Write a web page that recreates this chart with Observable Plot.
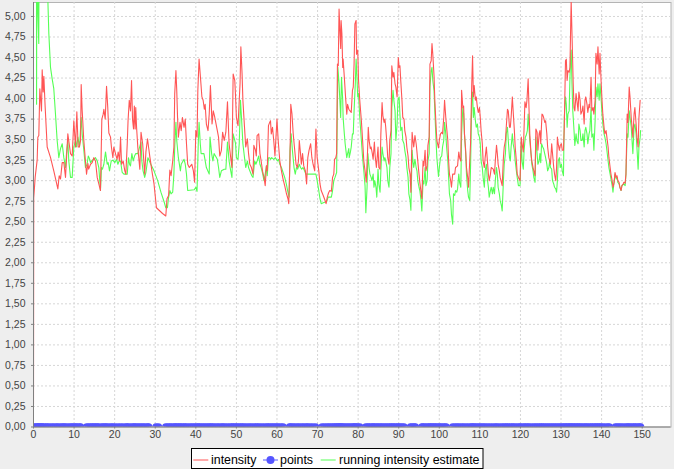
<!DOCTYPE html>
<html>
<head>
<meta charset="utf-8">
<script src="https://cdn.jsdelivr.net/npm/d3@7"></script>
<script src="https://cdn.jsdelivr.net/npm/@observablehq/plot@0.6"></script>
<style>
  html, body { margin: 0; padding: 0; background: #eeeeee; }
  #wrap { position: relative; width: 674px; height: 469px; overflow: hidden; background: #eeeeee; }
  #legend { position: absolute; left: 191px; top: 448px; }
</style>
</head>
<body>
<div id="wrap"></div>
<script>
// ---- data ----
const xTicks = [0, 10, 20, 30, 40, 50, 60, 70, 80, 90, 100, 110, 120, 130, 140, 150];
const yTicks = [0, 0.25, 0.5, 0.75, 1, 1.25, 1.5, 1.75, 2, 2.25, 2.5, 2.75, 3, 3.25, 3.5, 3.75, 4, 4.25, 4.5, 4.75, 5];
const seriesNames = ["intensity", "points", "running intensity estimate"];

// intensity: [time, value]
const intensity = [
[0,0.28],[0.06,2.79],[0.41,3.04],[0.9,3.25],[1.07,3.53],[1.31,3.55],[1.56,4.12],[1.97,3.85],[2.14,4.35],[2.38,4.08],[2.55,4.27],[2.88,3.89],[3.37,3.41],[4.2,3.28],[5.0,3.12],[6.0,2.9],[6.33,3.06],[6.66,3.02],[7.07,3.22],[7.48,3.22],[7.89,3.04],[8.46,3.57],[9.12,3.33],[9.53,3.3],[9.94,3.73],[10.35,3.41],[10.68,3.84],[11.0,3.41],[11.3,3.41],[11.6,3.49],[11.75,4.17],[12.0,3.85],[12.4,3.49],[12.8,3.24],[13.07,3.08],[13.4,3.21],[13.6,3.14],[14.05,3.2],[14.46,3.22],[14.87,3.28],[15.28,3.24],[15.7,3.04],[16.1,2.96],[16.5,2.88],[16.84,3.75],[17.17,3.81],[17.34,3.87],[17.67,3.75],[18.0,4.15],[18.3,3.89],[18.57,3.58],[18.98,3.53],[19.2,3.41],[19.56,3.28],[19.8,3.41],[20.2,3.33],[20.6,3.26],[20.87,3.35],[21.2,3.24],[21.45,3.53],[21.7,3.2],[22.1,3.24],[22.5,3.12],[22.76,3.08],[23.1,3.45],[23.3,3.73],[23.6,3.98],[23.9,3.85],[24.16,4.22],[24.4,3.75],[24.65,3.63],[24.85,3.91],[25.05,3.63],[25.2,3.89],[25.4,3.65],[25.7,3.41],[26.2,3.14],[26.5,3.59],[26.9,3.45],[27.4,3.08],[27.7,3.35],[28.1,3.51],[28.35,3.41],[28.7,3.28],[29.3,3.08],[29.7,2.96],[30.3,2.67],[31.8,2.6],[32.6,2.57],[32.9,2.78],[33.3,2.82],[33.6,3.13],[33.9,3.06],[34.3,3.24],[34.6,3.41],[34.8,4.06],[35.1,4.34],[35.3,4.1],[35.5,3.77],[35.7,3.53],[36.1,3.71],[36.4,3.61],[36.7,3.77],[37.1,3.65],[37.4,3.75],[37.7,3.45],[38.0,3.2],[38.4,3.16],[38.7,3.18],[39.0,3.2],[39.4,3.12],[39.7,2.98],[40.0,3.61],[40.3,3.53],[40.5,4.1],[40.8,4.48],[41.2,4.22],[41.5,4.02],[41.8,3.98],[42.1,3.87],[42.3,3.93],[42.6,3.69],[43.0,3.61],[43.3,3.81],[43.6,4.16],[44.0,3.69],[44.3,3.85],[44.6,3.79],[45.3,3.61],[45.6,3.53],[45.9,3.3],[46.3,3.37],[46.6,3.59],[47.0,3.49],[47.4,3.59],[47.8,3.96],[48.2,3.45],[48.6,3.28],[48.9,3.16],[49.2,4.3],[49.6,4.22],[49.8,4.02],[50.0,3.77],[50.4,3.67],[50.7,3.98],[50.9,4.18],[51.1,4.63],[51.4,4.3],[51.6,3.98],[52.0,3.65],[52.3,3.41],[52.7,3.51],[53.0,3.33],[53.3,3.2],[53.7,3.16],[54.1,3.08],[54.3,3.43],[54.7,3.37],[54.9,3.3],[55.1,3.55],[55.5,3.57],[55.8,3.33],[56.1,3.24],[56.5,3.1],[56.8,3.04],[57.1,2.94],[57.4,3.18],[57.6,3.12],[57.9,3.67],[58.2,3.71],[58.4,3.73],[58.6,3.57],[58.9,3.65],[59.2,3.49],[59.5,3.3],[59.8,3.57],[60.0,3.75],[60.3,3.49],[60.7,3.24],[61.1,3.12],[61.5,3.02],[61.9,2.94],[62.3,2.85],[62.7,2.78],[62.9,2.72],[63.2,3.24],[63.4,3.93],[63.7,3.81],[64.0,3.57],[64.3,3.41],[64.7,3.2],[65.0,3.16],[65.3,3.24],[65.5,3.49],[65.8,3.33],[66.0,3.2],[66.3,3.33],[66.6,3.18],[67.0,3.12],[67.3,2.96],[67.6,3.28],[67.9,3.37],[68.3,3.45],[68.6,3.28],[68.9,3.2],[69.3,3.12],[69.6,3.63],[69.9,3.28],[70.3,3.12],[70.6,2.96],[70.9,2.88],[71.4,2.82],[71.7,2.78],[72.1,2.72],[72.4,2.8],[72.7,2.85],[73.0,2.88],[73.4,2.87],[73.7,3.04],[74.0,3.08],[74.2,3.26],[74.5,3.28],[74.7,3.33],[74.9,4.42],[75.1,4.4],[75.3,5.09],[75.5,4.83],[75.7,4.61],[75.8,4.95],[76.0,4.79],[76.2,4.38],[76.3,4.48],[76.6,4.26],[76.9,4.02],[77.2,3.81],[77.4,3.93],[77.7,3.87],[78.0,3.85],[78.3,3.83],[78.6,4.1],[78.8,4.14],[79.0,4.42],[79.2,4.91],[79.5,4.95],[79.6,4.54],[79.9,4.59],[80.1,4.22],[80.4,3.98],[80.8,3.73],[81.1,3.49],[81.4,3.24],[81.8,3.08],[82.0,2.98],[82.3,3.33],[82.5,3.65],[82.7,3.49],[83.0,3.39],[83.2,3.41],[83.5,3.33],[83.7,3.26],[84.0,3.47],[84.2,3.3],[84.5,3.16],[84.9,3.41],[85.1,3.16],[85.4,3.14],[85.6,3.57],[85.9,3.95],[86.1,3.79],[86.4,3.71],[86.6,3.75],[86.8,3.65],[87.1,3.45],[87.3,3.28],[87.6,3.2],[87.8,3.49],[88.1,3.61],[88.3,4.4],[88.6,4.26],[88.8,4.32],[89.1,4.18],[89.3,4.14],[89.6,4.02],[89.9,4.5],[90.1,4.38],[90.3,4.4],[90.5,4.22],[90.8,3.98],[91.0,3.77],[91.3,3.75],[91.5,3.61],[91.8,3.53],[92.0,3.41],[92.3,3.3],[92.5,3.16],[92.8,3.08],[93.0,2.86],[93.3,3.59],[93.5,3.49],[93.7,3.41],[94.0,3.55],[94.3,3.45],[94.5,3.35],[94.7,3.24],[95.0,3.08],[95.2,2.98],[95.5,2.86],[95.7,2.78],[96.0,3.24],[96.2,3.18],[96.5,3.37],[96.7,3.12],[97.0,3.18],[97.2,3.43],[97.5,3.53],[97.7,4.42],[98.0,4.46],[98.2,4.67],[98.4,4.54],[98.7,4.28],[98.9,3.98],[99.2,3.67],[99.4,3.49],[99.8,3.4],[100.0,3.49],[100.3,3.57],[100.6,3.59],[100.8,3.57],[101.1,3.77],[101.3,3.98],[101.6,3.77],[101.8,3.65],[102.1,3.49],[102.3,3.24],[102.5,3.08],[102.8,3.0],[103.0,2.92],[103.3,3.08],[103.8,3.08],[104.0,3.16],[104.5,3.18],[104.8,3.35],[105.0,3.28],[105.3,3.24],[105.5,4.1],[105.8,3.89],[106.0,3.91],[106.2,3.57],[106.5,3.37],[106.7,3.16],[107.0,3.04],[107.2,2.92],[107.5,3.24],[107.7,3.45],[108.0,4.18],[108.2,4.52],[108.4,4.02],[108.6,4.16],[108.9,3.98],[109.1,4.02],[109.4,3.89],[109.6,3.83],[109.9,3.89],[110.1,3.77],[110.3,3.61],[110.6,3.45],[110.8,3.24],[111.1,3.16],[111.3,3.28],[111.6,3.41],[111.8,3.28],[112.1,3.08],[112.3,3.0],[112.6,3.08],[112.8,3.16],[113.3,3.14],[113.6,3.08],[113.8,3.24],[114.1,3.43],[114.3,3.33],[114.5,3.2],[114.8,3.12],[115.0,3.04],[115.3,2.98],[115.5,2.94],[115.8,3.28],[116.0,3.41],[116.3,3.49],[116.5,3.65],[116.8,3.87],[117.0,3.85],[117.3,3.65],[117.5,3.65],[117.7,3.77],[118.0,4.02],[118.2,3.85],[118.5,3.61],[118.7,3.41],[119.0,3.24],[119.2,3.08],[119.5,3.04],[119.9,3.0],[120.2,3.53],[120.4,3.45],[120.7,3.35],[120.9,3.65],[121.1,3.96],[121.4,3.89],[121.6,3.98],[121.9,4.24],[122.1,3.89],[122.3,3.57],[122.6,3.33],[122.8,3.24],[123.1,3.16],[123.3,3.12],[123.6,3.06],[123.8,3.63],[124.1,3.59],[124.3,3.37],[124.6,3.57],[124.8,3.61],[125.0,3.45],[125.3,3.81],[125.5,3.8],[125.7,3.77],[126.0,3.71],[126.2,3.73],[126.5,3.57],[126.7,3.41],[127.0,3.28],[127.2,3.24],[127.4,3.2],[127.7,3.45],[127.9,3.33],[128.2,3.16],[128.4,3.08],[128.7,3.0],[128.9,3.16],[129.1,3.53],[129.3,3.45],[129.6,3.37],[129.8,3.43],[130.1,3.45],[130.3,3.37],[130.6,3.37],[130.8,3.65],[131.1,4.46],[131.3,4.48],[131.5,4.22],[131.7,4.34],[132.0,4.32],[132.2,4.38],[132.4,4.95],[132.5,5.19],[132.7,4.79],[132.9,4.38],[133.0,4.18],[133.2,3.89],[133.4,3.85],[133.7,4.06],[133.9,3.98],[134.2,3.85],[134.4,4.08],[134.7,3.98],[134.9,3.81],[135.2,3.85],[135.4,3.91],[135.7,3.69],[135.9,3.98],[136.1,4.02],[136.4,3.93],[136.6,3.83],[136.9,3.93],[137.1,3.89],[137.4,4.26],[137.6,3.85],[137.9,3.89],[138.1,3.81],[138.4,3.98],[138.6,4.55],[138.9,4.42],[139.1,4.63],[139.4,4.3],[139.6,4.55],[139.9,4.18],[140.1,3.98],[140.3,3.81],[140.6,3.65],[140.8,3.57],[141.1,3.61],[141.3,3.53],[141.6,3.41],[141.8,3.28],[142.1,3.16],[142.3,3.08],[142.6,3.0],[142.8,2.92],[143.1,2.98],[143.3,3.1],[143.6,3.04],[143.8,3.06],[144.0,3.0],[144.3,2.98],[144.5,2.92],[144.8,2.88],[145.0,2.94],[145.3,2.96],[145.5,2.98],[145.8,2.97],[146.0,3.08],[146.3,3.81],[146.5,3.71],[146.8,4.14],[147.0,4.02],[147.3,3.77],[147.5,3.65],[147.7,3.53],[148.0,3.81],[148.2,3.89],[148.5,3.69],[148.7,3.53],[149.0,3.41],[149.2,3.77],[149.5,3.98]
];

// running intensity estimate: [time, value]
const estimate = [
[0.7,9],[0.76,3.93],[0.88,9],[1.06,5.04],[1.3,4.67],[1.5,8],[2.5,7],[3.3,5.6],[3.78,4.79],[4.19,4.38],[4.6,4.24],[5.0,4.12],[5.42,3.81],[5.83,3.49],[6.24,3.28],[6.66,3.39],[7.07,3.45],[7.48,3.28],[7.89,3.16],[8.13,3.33],[8.46,3.49],[8.7,3.24],[9.12,3.04],[9.53,3.04],[9.94,3.41],[10.35,3.49],[10.6,3.41],[10.93,3.53],[11.34,3.41],[11.75,3.77],[12.0,3.57],[12.4,3.37],[12.8,3.16],[13.2,3.2],[13.5,3.3],[13.7,3.28],[14.05,3.22],[14.46,3.25],[14.87,3.26],[15.28,3.28],[15.7,3.24],[16.1,3.16],[16.5,2.88],[16.76,3.16],[17.0,3.14],[17.34,3.2],[17.75,3.35],[18.16,3.2],[18.4,3.22],[18.73,3.12],[19.15,3.24],[19.56,3.25],[20.05,3.22],[20.46,3.26],[20.8,3.2],[21.1,3.24],[21.45,3.24],[21.86,3.1],[22.27,3.08],[22.68,3.08],[23.1,3.08],[23.4,3.28],[23.67,3.2],[23.9,3.18],[24.24,3.33],[24.57,3.24],[24.9,3.3],[25.2,3.33],[25.7,3.33],[26.5,3.47],[26.7,3.24],[27.0,3.12],[27.4,3.04],[27.7,3.1],[28.2,3.28],[28.9,3.2],[29.7,3.12],[30.6,3.0],[31.4,2.86],[32.2,2.74],[32.6,2.67],[33.0,2.67],[33.3,2.8],[33.6,2.88],[33.9,2.84],[34.3,2.86],[34.6,3.08],[34.8,3.41],[35.1,3.71],[35.3,3.49],[35.7,3.28],[36.2,3.12],[36.4,3.2],[37.1,3.26],[37.4,3.2],[37.7,3.08],[38.0,2.88],[39.6,2.89],[40.0,2.92],[40.3,2.87],[40.6,3.45],[40.8,3.71],[41.1,3.45],[41.3,3.33],[42.0,3.33],[42.6,3.16],[43.3,3.08],[43.5,3.53],[43.9,3.33],[44.2,3.24],[44.5,3.33],[45.3,3.26],[45.6,3.16],[45.9,3.04],[46.3,3.12],[47.0,3.14],[47.4,3.14],[47.8,3.47],[48.2,3.24],[48.6,3.12],[48.9,3.04],[49.2,3.57],[49.6,3.49],[49.8,3.45],[50.0,3.28],[50.4,3.26],[50.7,3.45],[51.0,3.98],[51.3,3.73],[51.6,3.45],[52.0,3.28],[52.3,3.16],[52.7,3.24],[53.0,3.16],[53.3,3.12],[53.8,3.06],[54.1,3.04],[54.5,3.24],[54.8,3.2],[55.1,3.24],[55.5,3.3],[55.8,3.2],[56.1,3.16],[56.5,3.08],[56.8,3.0],[57.1,3.08],[57.4,3.18],[57.6,3.06],[57.9,3.28],[58.2,3.28],[58.4,3.26],[58.7,3.28],[59.2,3.26],[59.6,3.28],[60.1,3.24],[60.4,3.26],[60.7,3.2],[61.1,3.16],[61.5,3.1],[61.9,3.04],[62.3,2.96],[62.7,2.86],[63.0,2.8],[63.2,3.37],[63.5,3.57],[63.8,3.37],[64.2,3.16],[64.5,3.08],[64.8,3.16],[65.1,3.14],[65.5,3.2],[65.8,3.16],[66.1,3.14],[66.4,3.16],[66.8,3.12],[67.1,3.08],[69.6,3.08],[69.9,3.0],[70.3,2.88],[70.6,2.78],[70.9,2.72],[71.4,2.73],[71.9,2.74],[72.2,2.74],[72.6,2.8],[73.4,2.8],[73.7,2.88],[74.0,3.0],[74.3,3.04],[74.7,3.1],[75.0,4.38],[75.3,4.18],[75.7,3.77],[75.9,4.26],[76.2,3.98],[76.3,3.77],[76.6,3.57],[76.8,3.45],[77.2,3.28],[77.4,3.33],[77.7,3.39],[77.8,3.28],[78.1,3.35],[78.3,3.41],[78.6,3.57],[78.8,3.57],[79.0,3.85],[79.3,4.18],[79.5,4.48],[79.6,4.38],[79.9,4.02],[80.1,4.06],[80.4,3.77],[80.8,3.49],[81.1,3.28],[81.4,3.12],[81.7,2.94],[81.9,2.61],[82.2,2.92],[82.4,3.33],[82.7,3.16],[82.9,3.08],[83.2,3.04],[83.4,3.0],[83.7,3.08],[83.9,2.92],[84.1,3.0],[84.4,2.92],[84.6,2.8],[84.9,3.14],[85.1,2.96],[85.4,2.86],[85.6,3.12],[85.9,3.41],[86.1,3.33],[86.4,3.24],[86.6,3.28],[86.8,3.24],[87.1,3.16],[87.3,3.0],[87.6,2.92],[87.8,3.16],[88.1,3.33],[88.3,3.89],[88.6,4.1],[88.8,3.98],[89.1,3.85],[89.3,3.49],[89.6,3.69],[89.8,3.98],[90.1,4.02],[90.3,3.81],[90.5,3.61],[90.8,3.65],[91.0,3.49],[91.3,3.45],[91.5,3.37],[91.8,3.28],[92.0,3.16],[92.3,3.04],[92.5,2.84],[92.8,2.76],[93.0,2.64],[93.3,3.37],[93.5,3.24],[93.7,3.16],[94.0,3.26],[94.3,3.16],[94.5,3.12],[94.7,3.0],[95.0,2.92],[95.2,2.88],[95.5,2.76],[95.7,2.63],[96.0,3.0],[96.2,2.96],[96.5,3.16],[96.7,2.94],[97.0,3.0],[97.2,3.24],[97.5,3.33],[97.7,4.14],[98.0,4.34],[98.2,4.38],[98.4,4.22],[98.7,4.1],[98.9,3.85],[99.2,3.49],[99.4,3.28],[99.8,3.05],[100.1,3.2],[100.3,3.28],[100.6,3.3],[100.8,3.41],[101.1,3.49],[101.3,3.71],[101.6,3.57],[101.8,3.41],[102.1,3.24],[102.3,3.04],[102.5,2.84],[102.8,2.76],[103.0,2.59],[103.3,2.47],[103.5,2.84],[103.8,2.82],[104.0,2.88],[104.3,2.86],[104.5,2.9],[104.8,3.08],[105.0,2.98],[105.3,2.92],[105.5,3.57],[105.8,3.89],[106.0,3.81],[106.2,3.57],[106.5,3.33],[106.7,3.08],[107.0,2.88],[107.2,2.8],[107.5,2.76],[107.7,3.16],[108.0,3.98],[108.2,4.08],[108.4,3.77],[108.6,3.89],[108.9,3.73],[109.1,3.65],[109.4,3.69],[109.6,3.57],[109.9,3.53],[110.1,3.45],[110.3,3.24],[110.6,3.16],[110.8,3.04],[111.1,2.92],[111.3,3.12],[111.6,3.2],[111.8,3.04],[112.1,2.92],[112.3,2.8],[112.6,2.88],[112.8,2.92],[113.1,2.84],[113.3,2.92],[113.6,2.84],[113.8,3.0],[114.1,3.16],[114.3,3.08],[114.5,2.92],[114.8,2.84],[115.0,2.76],[115.3,2.7],[115.5,2.63],[115.8,3.0],[116.0,3.2],[116.3,3.33],[116.5,3.57],[116.8,3.65],[117.0,3.49],[117.3,3.28],[117.5,3.24],[117.7,3.41],[118.0,3.57],[118.2,3.45],[118.5,3.37],[118.7,3.24],[119.0,3.12],[119.2,3.04],[119.5,2.94],[119.9,2.94],[120.2,3.49],[120.4,3.24],[120.7,3.14],[120.9,3.37],[121.2,3.53],[121.4,3.55],[121.7,3.61],[121.9,3.81],[122.1,3.65],[122.3,3.49],[122.6,3.33],[122.8,3.2],[123.1,3.12],[123.3,3.04],[123.6,2.98],[123.8,3.53],[124.1,3.33],[124.3,3.2],[124.6,3.24],[124.8,3.33],[125.0,3.22],[125.2,3.45],[125.5,3.41],[125.7,3.39],[126.2,3.28],[126.5,3.2],[126.7,3.12],[127.0,3.16],[127.2,3.24],[127.4,3.16],[127.7,3.14],[127.9,3.0],[128.2,2.96],[128.4,2.92],[128.7,2.9],[128.9,2.86],[129.1,3.0],[129.3,3.24],[129.6,3.28],[129.8,3.16],[130.1,3.2],[130.3,3.12],[130.6,3.06],[130.8,3.77],[131.1,4.02],[131.3,3.93],[131.5,3.65],[131.7,3.81],[132.0,3.85],[132.2,4.26],[132.4,4.55],[132.5,4.59],[132.7,4.18],[132.9,3.85],[133.0,3.77],[133.2,3.61],[133.4,3.43],[133.7,3.57],[133.9,3.49],[134.2,3.45],[134.4,3.69],[134.7,3.61],[134.9,3.49],[135.2,3.49],[135.4,3.57],[135.7,3.41],[135.9,3.61],[136.1,3.65],[136.4,3.57],[136.6,3.45],[136.9,3.57],[137.1,3.61],[137.4,3.89],[137.6,3.53],[137.9,3.57],[138.1,3.37],[138.4,3.73],[138.6,4.14],[138.9,4.02],[139.1,4.18],[139.4,3.98],[139.6,4.18],[139.9,3.98],[140.1,3.81],[140.3,3.69],[140.6,3.57],[140.8,3.53],[141.1,3.45],[141.3,3.37],[141.6,3.24],[141.8,3.16],[142.1,3.08],[142.3,3.02],[142.6,2.94],[142.8,2.86],[143.1,3.0],[143.3,3.08],[143.6,3.02],[143.8,3.04],[144.0,2.98],[144.3,2.96],[144.5,2.92],[144.8,2.88],[145.0,2.94],[145.5,2.96],[145.8,2.94],[146.0,3.08],[146.3,3.57],[146.5,3.53],[146.8,3.85],[147.0,3.77],[147.3,3.65],[147.5,3.49],[147.7,3.33],[148.0,3.65],[148.2,3.69],[148.5,3.57],[148.7,3.41],[149.0,3.14],[149.2,3.41],[149.5,3.53],[149.6,3.61]
];

// points (event times, drawn at value 0)
const points = [
0.05,0.4,0.9,1.1,1.3,1.6,2.0,2.1,2.5,3.0,3.4,3.9,4.5,5.0,5.6,6.0,6.6,7.1,7.5,7.9,8.5,9.1,9.5,9.9,10.4,10.7,11.3,11.6,
13.1,13.6,14.1,14.5,14.9,15.3,15.7,16.1,16.8,17.2,17.7,18.0,18.6,19.2,19.6,20.2,20.9,21.5,22.1,22.8,23.1,23.6,24.2,24.7,25.0,25.5,26.0,26.5,27.0,27.5,28.1,28.4,
30.2,30.8,
32.6,33.1,33.6,34.0,34.6,34.9,35.3,35.7,36.1,36.5,37.0,37.4,37.9,38.5,39.0,39.5,40.0,40.5,40.8,41.3,41.8,42.3,42.8,43.3,43.7,44.1,44.6,45.2,45.7,46.3,46.7,47.2,47.8,48.4,48.9,49.2,49.7,50.1,50.6,51.1,51.5,52.0,52.6,53.2,53.7,54.3,54.8,55.2,55.7,56.3,56.9,57.5,57.9,58.4,58.9,59.4,59.9,60.4,61.0,61.5,
63.1,63.4,63.9,64.4,65.0,65.5,66.1,66.6,67.2,67.6,68.2,68.8,69.5,
71.1,71.7,72.3,72.8,73.3,73.8,74.2,74.6,74.9,75.3,75.5,75.8,76.1,76.5,77.0,77.5,78.0,78.5,78.9,79.2,79.5,79.9,80.4,
81.9,82.4,82.8,83.3,83.7,84.0,84.5,84.9,85.4,85.8,86.3,86.8,87.3,87.8,88.2,88.6,89.0,89.5,89.9,90.3,90.8,91.3,
92.9,93.3,93.8,94.1,
95.7,96.0,96.5,97.0,97.5,97.8,98.2,98.6,99.0,99.4,99.9,100.3,100.8,101.3,101.7,
103.3,103.9,104.4,104.9,105.5,106.0,106.6,107.2,107.8,108.1,108.5,108.9,109.4,109.9,110.4,110.9,111.4,112.0,112.6,113.2,113.8,114.2,114.8,115.4,115.9,116.4,116.8,117.3,117.8,118.2,118.7,119.3,119.8,120.2,120.8,121.2,121.7,122.1,122.7,123.3,123.8,124.3,124.8,125.2,125.6,126.1,126.6,127.1,127.6,128.1,128.6,129.1,129.6,130.1,130.6,131.0,131.4,131.8,132.2,132.5,132.9,133.3,133.7,134.1,134.5,134.9,135.4,135.9,136.3,136.8,137.3,137.7,138.2,138.6,139.0,139.4,139.8,140.3,140.9,141.5,141.9,
143.4,143.9,144.4,144.9,145.5,146.1,146.5,146.9,147.4,147.9,148.3,148.8,149.3,149.6
];

// ---- chart ----
const RED = "#ff5555", BLUE = "#5555ff", GREEN = "#55ff55";
const FONT = "'Liberation Sans', Arial, sans-serif";
const fmtY = d => d.toFixed(2).replace(".", ",");

const chart = Plot.plot({
  width: 674,
  height: 446,
  marginLeft: 33,
  marginRight: 3.5,
  marginTop: 2,
  marginBottom: 19.5,
  style: {background: "transparent", fontFamily: FONT, fontSize: "10.5px", color: "#444444", overflow: "visible"},
  x: {domain: [0, 157.1], label: null},
  y: {domain: [0, 5.17], label: null},
  marks: [
    Plot.frame({fill: "#ffffff", stroke: "#b4b4b4"}),
    Plot.gridX(xTicks, {stroke: "#d6d6d6", strokeOpacity: 1, strokeDasharray: "2,2"}),
    Plot.gridY(yTicks, {stroke: "#d6d6d6", strokeOpacity: 1, strokeDasharray: "2,2"}),
    Plot.axisX(xTicks, {tickSize: 2, tickPadding: 1.5, tickFormat: d => String(d), stroke: "#808080", fill: "#444444"}),
    Plot.axisY(yTicks, {tickSize: 2, tickPadding: 6, tickFormat: fmtY, stroke: "#808080", fill: "#444444"}),
    Plot.line(estimate, {x: d => d[0], y: d => d[1], stroke: GREEN, strokeWidth: 1.1, clip: true}),
    Plot.dot(points, {x: d => d, y: () => 0, r: 3.8, fill: BLUE, stroke: "none", clip: true}),
    Plot.line(intensity, {x: d => d[0], y: d => d[1], stroke: RED, strokeWidth: 1.1, clip: true}),
    Plot.ruleX([0], {stroke: "#808080", strokeWidth: 1}),
    Plot.ruleY([0], {stroke: "#808080", strokeWidth: 1})
  ]
});

const wrap = document.getElementById("wrap");
chart.style.display = "block";
wrap.appendChild(chart);

// ---- legend ----
const ns = "http://www.w3.org/2000/svg";
const leg = document.createElementNS(ns, "svg");
leg.setAttribute("id", "legend");
leg.setAttribute("width", "293");
leg.setAttribute("height", "21");
leg.style.position = "absolute";
leg.style.left = "191px";
leg.style.top = "448px";
const items = [
  {name: seriesNames[0], color: RED, lx: 2.3, tx: 20, dot: false},
  {name: seriesNames[1], color: BLUE, lx: 72, tx: 89, dot: true},
  {name: seriesNames[2], color: GREEN, lx: 129.7, tx: 148, dot: false}
];
let html = `<rect x="0.5" y="0.5" width="291.5" height="20" fill="#ffffff" stroke="#000000" stroke-width="1"/>`;
for (const it of items) {
  html += `<line x1="${it.lx}" x2="${it.lx + 15}" y1="12" y2="12" stroke="${it.color}" stroke-width="1"/>`;
  if (it.dot) html += `<circle cx="${it.lx + 7.5}" cy="12" r="4" fill="${it.color}"/>`;
  html += `<text x="${it.tx}" y="16" font-family="${FONT.replace(/'/g, "")}" font-size="12.4" fill="#000000">${it.name}</text>`;
}
leg.innerHTML = html;
wrap.appendChild(leg);
</script>
</body>
</html>
